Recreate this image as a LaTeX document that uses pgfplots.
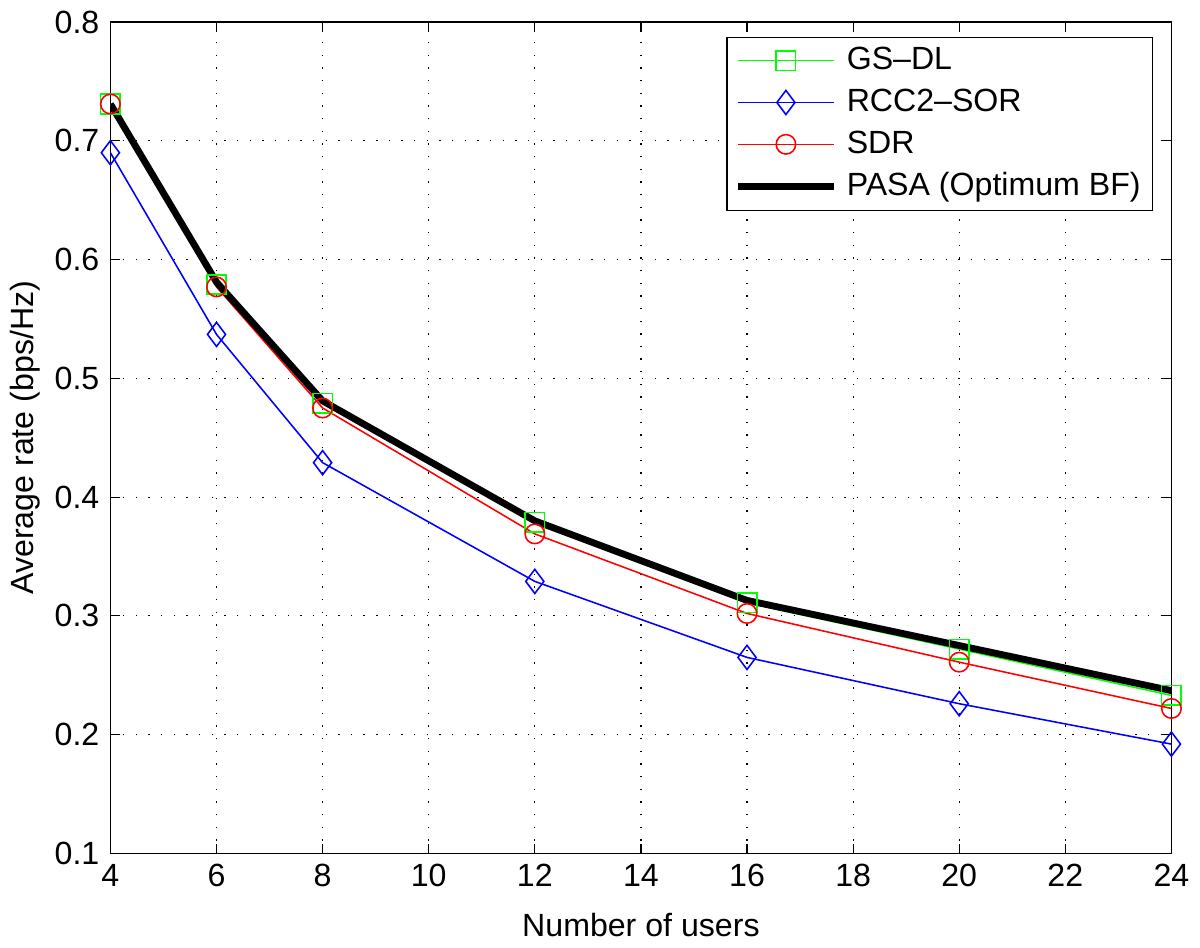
\documentclass[border=0pt]{standalone}
\usepackage{pgfplots}
\pgfplotsset{compat=1.18}
\usepackage{fontspec}
\setmainfont{Liberation Sans}
\definecolor{mgreen}{rgb}{0,1,0}
\definecolor{mblue}{rgb}{0,0,1}
\definecolor{mred}{rgb}{1,0,0}
\begin{document}
\fontsize{16.5}{19}\selectfont
\begin{tikzpicture}
\begin{axis}[
  scale only axis,
  width=545pt, height=427pt,
  xmin=4, xmax=24, ymin=0.1, ymax=0.8,
  xtick={4,6,...,24},
  ytick={0.1,0.2,...,0.8},
  yticklabel style={/pgf/number format/fixed,/pgf/number format/precision=1,/pgf/number format/fixed zerofill},
  /pgf/number format/assume math mode=true,
  tick align=inside,
  major tick length=5pt,
  tick style={black, line width=0.6pt},
  axis line style={line width=0.8pt},
  grid=major,
  major grid style={black, line width=0.6pt, dash pattern=on 0.7pt off 5.8pt},
  xlabel={Number of users},
  ylabel={Average rate (bps/Hz)},
  xlabel style={yshift=-2pt},
  ylabel style={yshift=-4pt},
  every tick label/.style={font=\fontsize{16.5}{19}\selectfont},
  label style={font=\fontsize{16.5}{19}\selectfont},
  legend style={at={(1,1)}, anchor=north east, xshift=-9.5pt, yshift=-7.5pt,
    draw=black, line width=0.6pt, font=\fontsize{16.5}{19}\selectfont,
    row sep=3.5pt, inner xsep=4pt, inner ysep=3pt,
    /tikz/every odd column/.append style={column sep=3pt}},
  legend cell align=left,
  legend image code/.code={
    \draw[mark repeat=2,mark phase=2,#1] plot coordinates {(0pt,0pt) (24.5pt,0pt) (49pt,0pt)};
  },
]
\addplot[color=mgreen, line width=0.8pt, mark=square, mark size=5pt, mark options={solid, line width=0.8pt, draw=mgreen}] coordinates {
(4,0.731) (6,0.579) (8,0.479) (12,0.379) (16,0.311) (20,0.272) (24,0.233)};
\addlegendentry{GS--DL}
\addplot[color=mblue, line width=0.8pt, mark=diamond, mark size=6.2pt, mark options={solid, line width=0.8pt}] coordinates {
(4,0.690) (6,0.537) (8,0.429) (12,0.329) (16,0.265) (20,0.226) (24,0.192)};
\addlegendentry{RCC2--SOR}
\addplot[color=mred, line width=0.8pt, mark=o, mark size=5pt, mark options={solid, line width=0.8pt}] coordinates {
(4,0.731) (6,0.577) (8,0.475) (12,0.369) (16,0.302) (20,0.261) (24,0.222)};
\addlegendentry{SDR}
\addplot[color=black, line width=3.5pt, no marks] coordinates {
(4,0.731) (6,0.581) (8,0.481) (12,0.380) (16,0.313) (20,0.275) (24,0.237)};
\addlegendentry{PASA (Optimum BF)}
\end{axis}
\end{tikzpicture}
\end{document}
